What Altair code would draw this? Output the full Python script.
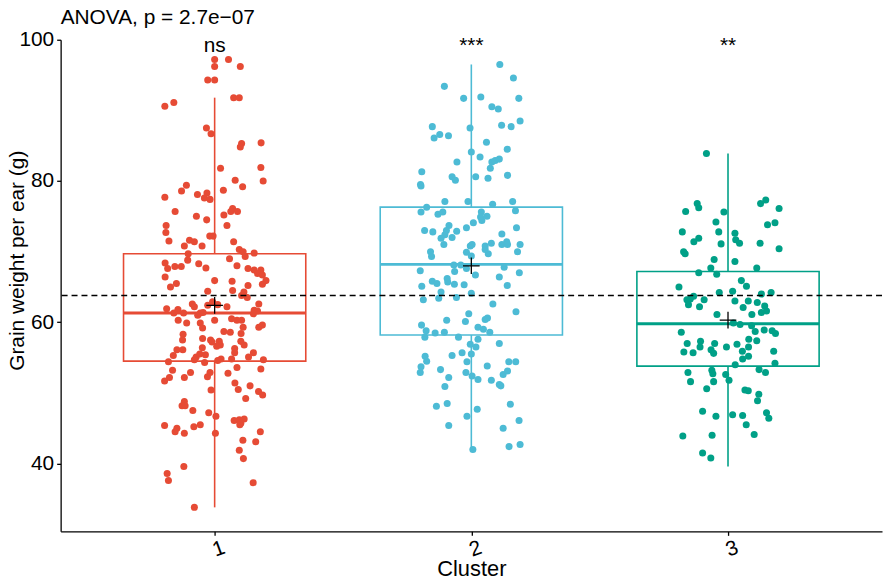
import altair as alt
import pandas as pd

# ---------------- data ----------------
clusters = ["1", "2", "3"]
colors = ["#E64B35", "#4DBBD5", "#00A087"]

c1_weight = [97.2, 97.2, 96.2, 96.2, 94.3, 94.3, 91.8, 91.8, 90.6, 91.1, 87.5, 86.7, 85.3, 84.8, 85.4,
             81.8, 81.9, 80.0, 80.1, 79.2, 79.4, 78.6, 77.7, 78.1, 78.3, 77.6, 77.4, 78.7, 76.1, 75.7,
             75.7, 75.7, 75.0, 75.2, 74.5, 73.7, 73.7, 72.7, 71.5, 72.2, 72.2, 71.6, 71.4, 70.8, 70.8,
             71.4, 70.3, 70.0, 69.8, 69.7, 69.3, 68.4, 67.6, 67.9, 67.9, 68.8, 68.3, 67.7, 69.0, 68.0,
             67.6, 67.4, 67.4,
             66.9, 66.7, 66.4, 65.0, 65.5, 65.9, 65.8, 65.2, 65.4, 65.9, 64.4, 64.5, 64.3, 63.8, 63.5,
             62.6, 62.2, 62.4, 62.9, 62.5, 62.2, 62.6, 61.9, 61.8, 61.3, 61.3, 61.0, 61.3, 61.4, 61.7,
             61.6, 61.2, 60.3, 59.9, 60.3, 60.5, 60.3, 60.3, 59.9, 59.2, 59.3, 59.3, 59.6, 58.7, 58.6,
             58.4, 58.3, 57.5, 57.7, 57.5, 57.2, 57.3, 56.8, 56.6, 57.3, 56.8, 56.3, 55.7, 56.1, 56.1,
             56.4, 55.3, 55.1, 55.5, 55.4, 54.7, 54.8, 54.6, 54.8, 54.4, 54.3, 55.1, 55.7, 54.7, 53.2,
             52.2, 51.7, 52.2, 52.9, 52.3, 52.9, 52.8, 53.6, 53.4, 51.4, 50.5, 51.0, 50.4, 50.2, 49.7,
             49.2, 48.8, 48.2, 48.2, 47.5, 47.2, 46.7, 46.1, 46.2, 46.3, 45.7, 45.5, 45.4, 45.0, 44.5,
             44.3, 45.2, 45.5, 44.3, 44.5, 43.3, 43.1, 41.9, 40.7, 39.6, 38.6, 37.6, 37.3, 33.8]
c1_jitter = [0.00, 0.054, 0.00, 0.10, -0.027, 0.00, 0.074, 0.096, -0.194, -0.159, -0.032, -0.014, 0.105, 0.10, 0.181,
             0.023, 0.18, 0.189, 0.08, 0.109, -0.11, -0.129, -0.194, -0.067, -0.03, -0.04, -0.018, 0.034, 0.07, 0.063,
             0.089, -0.154, -0.071, 0.036, -0.031, 0.048, -0.189, -0.19, -0.178, -0.019, -0.006, -0.098, -0.079, -0.118, -0.049,
             0.074, 0.096, 0.111, 0.154, -0.103, 0.119, -0.193, -0.183, -0.155, -0.13, -0.105, -0.062, -0.034, 0.058, 0.087,
             0.13, 0.154, 0.18,
             0.167, 0.186, -0.193, -0.172, -0.149, 0.0, 0.068, 0.13, 0.186, 0.2, -0.027, 0.07, 0.114, 0.105, 0.127,
             -0.087, -0.079, -0.027, -0.008, 0.012, 0.048, 0.172, -0.187, -0.143, -0.159, -0.121, -0.066, -0.056, -0.045, 0.154,
             0.167, 0.151, -0.142, -0.109, 0.0, 0.066, 0.087, 0.105, -0.056, -0.047, 0.111, 0.172, 0.186, 0.036, 0.061,
             0.103, -0.123, -0.125, -0.047, -0.016, -0.01, 0.018, 0.022, 0.008, 0.102, 0.115, 0.078, 0.078, -0.147, -0.124,
             -0.048, -0.161, -0.072, -0.058, -0.036, -0.079, 0.025, 0.012, 0.066, -0.18, -0.039, 0.132, 0.151, 0.19, -0.164,
             -0.176, -0.195, -0.118, -0.094, -0.028, -0.018, 0.052, 0.087, 0.18, 0.079, 0.092, 0.138, -0.014, 0.171, 0.187,
             0.121, -0.118, -0.127, -0.115, -0.085, -0.023, 0.005, 0.076, 0.096, 0.115, 0.102, 0.098, -0.195, -0.147, -0.154,
             -0.118, -0.081, -0.056, 0.003, 0.178, 0.11, 0.16, 0.096, 0.112, -0.12, -0.185, -0.18, 0.15, -0.079]

c2_weight = [96.5, 94.6, 93.4, 91.7, 91.9, 91.7, 90.5, 90.2, 87.7, 87.5, 87.9, 87.7, 88.5, 86.1, 86.6,
             86.4, 85.5, 84.5, 84.1, 82.7, 83.4, 82.7, 82.9, 83.1, 81.8, 81.3, 80.6, 80.1, 80.6, 80.4,
             80.8, 79.3, 79.5, 77.1, 77.1, 77.1, 76.7, 76.3, 75.6, 75.3, 75.6, 75.6, 74.9, 74.4, 75.0,
             75.8, 74.1, 73.0, 72.8, 73.7, 73.0, 72.4, 71.9, 72.0, 72.9, 73.4, 71.0, 70.8, 71.0, 70.8,
             71.2, 72.5, 73.4, 71.0, 71.4, 71.0, 71.0, 70.0, 70.0, 69.3, 69.9, 69.7, 69.4, 70.3, 68.1,
             68.1, 67.6, 66.7, 67.8, 67.3, 67.2, 67.0, 66.2, 66.4,
             65.1, 65.8, 65.5, 65.7, 65.4, 65.3, 65.2, 64.3, 64.1, 63.2, 63.4, 63.5, 62.6, 61.5, 61.2,
             60.1, 60.3, 60.4, 60.6, 59.6, 59.3, 59.0, 58.6, 58.8, 57.9, 58.5, 58.6, 57.9, 57.6, 56.9,
             56.5, 57.0, 55.2, 54.5, 55.3, 55.7, 55.5, 54.4, 53.7, 52.9, 53.3, 52.2, 52.9, 52.4, 51.9,
             53.8, 51.8, 52.6, 53.1, 54.4, 54.4, 51.2, 51.0, 50.9, 48.1, 48.5, 47.7, 48.4, 46.7, 45.4,
             46.1, 45.0, 42.0, 42.4, 42.7]
c2_jitter = [0.111, 0.164, -0.105, -0.03, 0.037, 0.185, 0.08, 0.105, -0.152, -0.005, 0.118, 0.155, 0.19, -0.145, -0.123,
             -0.089, 0.059, 0.14, 0.0, -0.056, 0.034, 0.08, 0.093, 0.109, 0.074, -0.193, -0.075, -0.062, 0.017, 0.065,
             0.141, -0.196, -0.198, -0.103, -0.013, 0.161, 0.083, -0.174, -0.196, -0.13, -0.111, 0.039, 0.036, 0.041, 0.061,
             0.172, 0.008, -0.182, -0.15, -0.087, -0.097, -0.103, -0.118, -0.075, -0.057, -0.019, -0.107, -0.004, 0.003, 0.054,
             0.078, 0.119, 0.176, 0.119, 0.138, 0.141, 0.19, 0.18, -0.159, -0.155, -0.019, 0.066, 0.0, 0.054, -0.068,
             -0.041, -0.019, 0.016, 0.128, -0.199, -0.065, 0.187, -0.094, 0.109,
             -0.193, -0.152, -0.134, -0.092, -0.066, -0.028, 0.14, -0.118, 0.0, -0.187, -0.127, -0.058, 0.084, 0.174, -0.01,
             -0.023, -0.096, 0.054, 0.063, -0.194, 0.026, 0.047, 0.072, -0.176, -0.181, -0.141, -0.105, -0.05, 0.026, -0.004,
             0.018, 0.109, -0.18, -0.174, -0.075, -0.036, 0.0, -0.017, -0.196, -0.199, -0.12, -0.088, -0.021, 0.003, 0.026,
             0.062, 0.078, 0.124, 0.141, 0.146, 0.173, 0.109, 0.115, -0.103, -0.136, -0.094, 0.023, 0.152, -0.017, -0.088,
             0.186, 0.124, 0.006, 0.147, 0.19]

c3_weight = [83.9, 76.8, 76.2, 75.7, 75.6, 76.8, 77.3, 76.1, 74.2, 72.6, 72.8, 72.8, 73.8, 74.1, 71.9,
             71.4, 71.1, 71.7, 71.2, 71.2, 70.4, 70.0, 69.7, 68.9, 68.6, 67.7, 67.0, 66.8, 67.7, 65.9,
             65.1, 65.0, 64.2, 64.4, 64.2, 64.0, 63.7, 63.3,
             63.2, 62.5, 63.2, 62.2, 63.0, 63.0, 62.8, 62.1, 62.3, 61.6, 61.4, 61.1, 61.1, 59.9, 59.7,
             59.5, 58.6, 58.7, 58.9, 58.8, 58.4, 57.0, 57.3, 56.5, 57.0, 56.5, 56.9, 57.6, 57.4, 55.8,
             55.7, 56.1, 55.6, 55.9, 56.5, 55.9, 54.8, 55.2, 54.2, 54.0, 53.3, 52.9, 52.9, 53.2, 52.7,
             52.6, 51.6, 51.6, 51.8, 50.6, 50.4, 50.3, 49.8, 48.9, 47.4, 46.7, 46.9, 46.8, 47.2, 46.4,
             45.5, 43.9, 44.0, 44.1, 41.5, 40.8]
c3_jitter = [-0.084, -0.12, -0.114, -0.165, -0.016, 0.127, 0.147, 0.199, -0.047, 0.027, -0.178, -0.036, 0.154, 0.183, -0.114,
             -0.133, -0.027, 0.03, 0.045, 0.125, 0.199, -0.173, -0.167, -0.054, 0.027, -0.067, -0.114, -0.044, 0.112, 0.052,
             0.072, -0.191, -0.034, 0.018, 0.168, 0.13, -0.134, -0.147,
             -0.16, -0.154, -0.093, -0.111, 0.027, 0.079, 0.114, 0.059, 0.143, 0.15, 0.13, -0.043, 0.093, 0.021, 0.047,
             0.092, -0.182, 0.106, 0.141, 0.172, 0.185, -0.159, -0.107, -0.109, -0.052, -0.006, 0.035, 0.081, 0.112, -0.172,
             -0.136, -0.066, -0.056, 0.056, 0.08, 0.178, 0.057, 0.08, 0.183, 0.028, 0.121, 0.146, -0.156, -0.063, -0.059,
             -0.009, -0.146, -0.056, 0.004, -0.083, 0.066, 0.079, 0.12, 0.115, -0.099, -0.047, 0.018, 0.057, 0.15, 0.159,
             0.071, -0.176, -0.062, 0.102, -0.099, -0.067]

# box-plot statistics
q1 = [54.5, 58.2, 53.8]
median = [61.3, 68.2, 59.8]
q3 = [69.7, 76.3, 67.2]
whisker_low = [33.8, 42.0, 39.6]
whisker_high = [91.8, 96.5, 83.9]
group_mean = [62.4, 68.0, 60.3]
overall_mean = [63.8]
signif = ["ns", "***", "**"]
title_text = "ANOVA, p = 2.7e\u221207"

# ---------------- tables ----------------
rows = []
for k, (w, j) in enumerate([(c1_weight, c1_jitter), (c2_weight, c2_jitter), (c3_weight, c3_jitter)]):
    for v, d in zip(w, j):
        rows.append({"cluster": clusters[k], "x": k + 1 + d, "weight": v})
pts = pd.DataFrame(rows)

half = 0.355
box = pd.DataFrame({
    "cluster": clusters,
    "xc": [1, 2, 3],
    "x_lo": [i + 1 - half for i in range(3)],
    "x_hi": [i + 1 + half for i in range(3)],
    "q1": q1, "med": median, "q3": q3,
    "wlo": whisker_low, "whi": whisker_high,
    "mean": group_mean, "sig": signif,
})
ref = pd.DataFrame({"ref": overall_mean})

FONT = "Liberation Sans"
FS = 21
xscale = alt.Scale(domain=[0.4, 3.6], nice=False, zero=False)
yscale = alt.Scale(domain=[30.4, 100], nice=False, zero=False)
cscale = alt.Scale(domain=clusters, range=colors)

xaxis = alt.Axis(values=[1, 2, 3], format="d", title="Cluster", grid=False,
                 tickSize=4, tickColor="black", tickWidth=1.3, domainColor="black", domainWidth=1.3,
                 labelFontSize=FS, labelColor="black", labelAngle=340, labelAlign="center",
                 labelBaseline="top", labelPadding=3, labelFont=FONT,
                 titleFontSize=22, titleFontWeight="normal", titleColor="black", titleFont=FONT,
                 titleY=44, titleBaseline="alphabetic")
yaxis = alt.Axis(values=[40, 60, 80, 100], title="Grain weight per ear (g)", grid=False,
                 tickSize=4, tickColor="black", tickWidth=1.3, domainColor="black", domainWidth=1.3,
                 labelFontSize=FS, labelColor="black", labelPadding=3, labelFont=FONT,
                 titleFontSize=21, titleFontWeight="normal", titleColor="black", titleFont=FONT,
                 titleX=-37, titleY=222, titleAngle=270, titleAlign="center", titleBaseline="alphabetic")

color_enc = alt.Color("cluster:N", scale=cscale, legend=None)

boxes = alt.Chart(box).mark_rect(fillOpacity=0, strokeWidth=1.6).encode(
    x=alt.X("x_lo:Q", scale=xscale, axis=xaxis), x2="x_hi:Q",
    y=alt.Y("q1:Q", scale=yscale, axis=yaxis), y2="q3:Q",
    stroke=alt.Stroke("cluster:N", scale=cscale, legend=None))

wl = alt.Chart(box).mark_rule(strokeWidth=1.6).encode(
    x=alt.X("xc:Q", scale=xscale, axis=xaxis),
    y=alt.Y("wlo:Q", scale=yscale, axis=yaxis), y2="q1:Q", color=color_enc)
wh = alt.Chart(box).mark_rule(strokeWidth=1.6).encode(
    x=alt.X("xc:Q", scale=xscale, axis=xaxis),
    y=alt.Y("q3:Q", scale=yscale, axis=yaxis), y2="whi:Q", color=color_enc)
med = alt.Chart(box).mark_rule(strokeWidth=3).encode(
    x=alt.X("x_lo:Q", scale=xscale, axis=xaxis), x2="x_hi:Q",
    y=alt.Y("med:Q", scale=yscale, axis=yaxis), color=color_enc)

points = alt.Chart(pts).mark_circle(size=50, opacity=1).encode(
    x=alt.X("x:Q", scale=xscale, axis=xaxis),
    y=alt.Y("weight:Q", scale=yscale, axis=yaxis), color=color_enc)

hline = alt.Chart(ref).mark_rule(color="black", strokeDash=[6, 4], strokeWidth=1.4).encode(
    y=alt.Y("ref:Q", scale=yscale, axis=yaxis))

cross = alt.Chart(box).mark_point(shape="M-1,0L1,0M0,-1L0,1", size=280, filled=False,
                                  color="black", strokeWidth=1.3, opacity=1).encode(
    x=alt.X("xc:Q", scale=xscale, axis=xaxis),
    y=alt.Y("mean:Q", scale=yscale, axis=yaxis))

sig = alt.Chart(box).mark_text(fontSize=FS, font=FONT, baseline="alphabetic", color="black").encode(
    x=alt.X("xc:Q", scale=xscale, axis=xaxis), y=alt.datum(98.2), text="sig:N")

chart = alt.layer(boxes, wl, wh, med, points, hline, cross, sig).properties(
    width=827, height=495,
    padding={"left": 53, "top": 30, "right": 2, "bottom": 48},
    autosize=alt.AutoSizeParams(type="none"),
    title=alt.TitleParams(title_text, anchor="start", frame="group", fontSize=FS,
                          fontWeight="normal", font=FONT, color="black", offset=0,
                          baseline="alphabetic", dy=16),
).configure(font=FONT, background="white").configure_view(stroke=None)

chart.save("out.html", embed_options={"renderer": "svg", "actions": False})
